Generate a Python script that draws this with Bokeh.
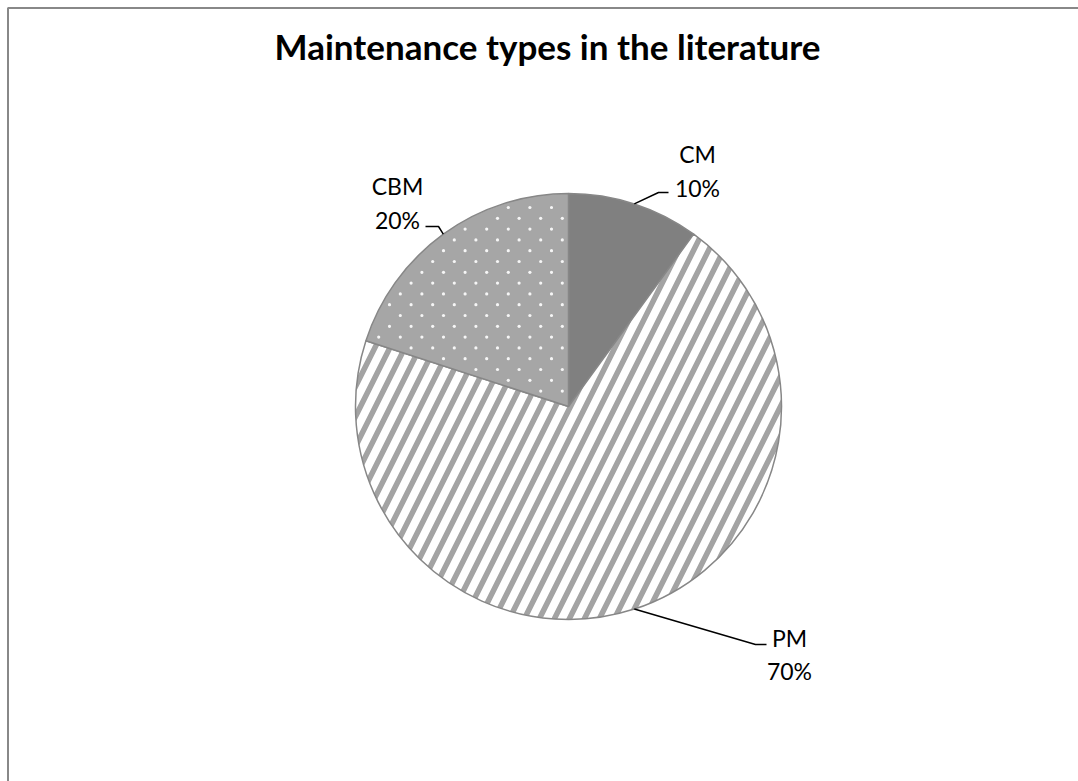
import numpy as np
from bokeh.plotting import figure
from bokeh.models import Range1d
from bokeh.core.properties import value
from bokeh.embed import file_html
from bokeh.resources import INLINE

# Share of maintenance types found in the literature (percent)
categories = ["CM", "PM", "CBM"]
shares = [10, 70, 20]

W, H = 1078, 781
FONT = "Lato"

p = figure(width=W, height=H, output_backend="svg", toolbar_location=None,
           x_range=Range1d(0, W), y_range=Range1d(0, H), min_border=0,
           background_fill_color="white", border_fill_color="white")
p.axis.visible = False
p.grid.visible = False
p.outline_line_color = None

# chart area frame (runs off the right and bottom edges)
p.line(x=[7.5, 7.5, W + 10], y=[-10, H - 7.5, H - 7.5], line_color="#888888", line_width=2)

def py(y):
    # page pixel row -> data y
    return H - y

cx, cy, R = 568, py(406), 213

# clockwise angles from 12 o'clock
frac = np.array(shares, dtype=float) / sum(shares)
ends = np.cumsum(frac) * 360.0
starts = ends - frac * 360.0
mids = (starts + ends) / 2.0

def to_math(theta_deg):
    return np.radians(90.0 - theta_deg)

styles = {
    "CM": dict(fill_color="#808080"),
    "PM": dict(fill_color="white", hatch_pattern="/", hatch_color="#a3a3a3",
               hatch_weight=5.5, hatch_scale=30),
    "CBM": dict(fill_color="#a6a6a6"),
}

for cat, s, e in zip(categories, starts, ends):
    p.wedge(x=cx, y=cy, radius=R, start_angle=to_math(e), end_angle=to_math(s),
            line_color="#878787", line_width=1.5, **styles[cat])

# dotted texture on the CBM slice
i = categories.index("CBM")
dx, dy = 21.6, 10.8
pts_x, pts_y = [], []
for r, yy in enumerate(np.arange(cy - R - 20, cy + R + 20, dy)):
    off = 0 if r % 2 == 0 else dx / 2
    for xx in np.arange(cx - R - 20 + off, cx + R + 20, dx):
        ddx, ddy = xx - cx, yy - cy
        rr = np.hypot(ddx, ddy)
        if rr > R - 4 or rr < 3:
            continue
        th = np.degrees(np.arctan2(ddx, ddy)) % 360
        if starts[i] + 0.8 < th < ends[i] - 0.8:
            pts_x.append(xx)
            pts_y.append(yy)
p.scatter(x=pts_x, y=pts_y, size=3.2, marker="circle", fill_color="white",
          line_color=None, fill_alpha=0.9)

# leader lines: from slice edge through an elbow to the label
elbows = {"CM": (658, 192, 668, 192), "PM": (755, 644, 766, 644), "CBM": (438, 226, 425, 226)}
for cat, m in zip(categories, mids):
    ex = cx + R * np.sin(np.radians(m))
    ey = cy + R * np.cos(np.radians(m))
    bx, by, tx, ty = elbows[cat]
    p.line(x=[ex, bx, tx], y=[ey, py(by), py(ty)], line_color="black", line_width=1.5)

# labels
label_pos = {"CM": (697, 153, 187), "PM": (789, 637, 670), "CBM": (397, 185, 219)}
for cat, s in zip(categories, shares):
    lx, y1, y2 = label_pos[cat]
    p.text(x=[lx, lx], y=[py(y1), py(y2)], text=[cat, f"{s}%"],
           text_font=value(FONT), text_font_size="23px", text_color="black",
           text_align="center", text_baseline="middle")

p.text(x=[547], y=[py(45)], text=["Maintenance types in the literature"],
       text_font=value(FONT), text_font_size="35px", text_font_style="bold",
       text_color="black", text_align="center", text_baseline="middle")

open("out.html", "w").write(file_html(p, INLINE))
